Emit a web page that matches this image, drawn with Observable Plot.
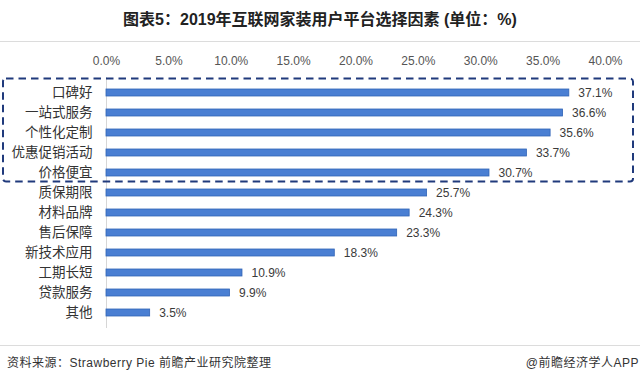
<!DOCTYPE html>
<html>
<head>
<meta charset="utf-8">
<script src="https://cdn.jsdelivr.net/npm/d3@7"></script>
<script src="https://cdn.jsdelivr.net/npm/@observablehq/plot@0.6"></script>
<style>
  html, body { margin: 0; padding: 0; background: #fff; }
  #wrap { position: relative; width: 640px; height: 384px; overflow: hidden; font-family: "Liberation Sans", "Noto Sans CJK SC", sans-serif; }
  #title { position: absolute; left: 0; width: 640px; top: 9px; text-align: center; font-size: 16px; font-weight: bold; color: #222; line-height: 22px; font-family: "Liberation Sans", "Noto Sans CJK SC", sans-serif; }
  .hline { position: absolute; left: 0; width: 640px; height: 1px; background: #dcdcdc; }
  .foot { position: absolute; top: 355px; font-size: 12px; color: #333; line-height: 16px; letter-spacing: 0.5px; white-space: nowrap; }
  #chart { position: absolute; left: 0; top: 0; }
</style>
</head>
<body>
<div id="wrap">
  <div id="chart"></div>
  <div id="title">图表5：2019年互联网家装用户平台选择因素 (单位：%)</div>
  <div class="hline" style="top:41px"></div>
  <div class="hline" style="top:345px"></div>
  <div class="foot" style="left:7px">资料来源：Strawberry Pie 前瞻产业研究院整理</div>
  <div class="foot" style="right:1px">@前瞻经济学人APP</div>
</div>
<script>
const categories = ["口碑好", "一站式服务", "个性化定制", "优惠促销活动", "价格便宜", "质保期限", "材料品牌", "售后保障", "新技术应用", "工期长短", "贷款服务", "其他"];
const values = [37.1, 36.6, 35.6, 33.7, 30.7, 25.7, 24.3, 23.3, 18.3, 10.9, 9.9, 3.5];
const xTicks = [0, 5, 10, 15, 20, 25, 30, 35, 40];
const highlighted = ["口碑好", "一站式服务", "个性化定制", "优惠促销活动", "价格便宜"];

const data = categories.map((c, i) => ({cat: c, v: values[i]}));

const plot = Plot.plot({
  width: 640,
  height: 384,
  marginLeft: 106,
  marginRight: 35,
  marginTop: 77,
  marginBottom: 56,
  style: {fontFamily: '"Liberation Sans", "Noto Sans CJK SC", sans-serif', background: "transparent"},
  x: {domain: [0, 40]},
  y: {domain: categories, paddingInner: 0.67, paddingOuter: 0.335},
  marks: [
    Plot.axisX({anchor: "top", ticks: xTicks, tickSize: 0, tickPadding: 13, tickFormat: d => d.toFixed(1) + "%", fontSize: 12, fill: "#555", label: null}),
    Plot.axisY({tickSize: 0, tickPadding: 14, fontSize: 13.5, fill: "#333", label: null, fontFamily: '"Noto Sans CJK SC", sans-serif'}),
    Plot.ruleX([0], {stroke: "#d6d6d6", strokeWidth: 1}),
    Plot.barX(data, {x: "v", y: "cat", fill: "#4a7fd3", stroke: "#3164b6", strokeWidth: 0.8}),
    Plot.text(data, {x: "v", y: "cat", text: d => d.v.toFixed(1) + "%", dx: 9, textAnchor: "start", fontSize: 12, fill: "#3a3a3a"})
  ]
});
document.getElementById("chart").appendChild(plot);

// dashed highlight box around the top five factors
const ys = plot.scale("y");
const xs = plot.scale("x");
const step = ys.step;
const half = ys.bandwidth / 2;
const yTop = ys.apply(highlighted[0]) + half - step / 2 - 4;
const yBot = ys.apply(highlighted[highlighted.length - 1]) + half + step / 2 - 1;
d3.select(plot).append("rect")
  .attr("x", 3)
  .attr("y", yTop)
  .attr("width", xs.apply(40) + 28 - 3)
  .attr("height", yBot - yTop)
  .attr("rx", 3)
  .attr("fill", "none")
  .attr("stroke", "#203a7c")
  .attr("stroke-width", 2)
  .attr("stroke-dasharray", "7.5 5");
</script>
</body>
</html>
